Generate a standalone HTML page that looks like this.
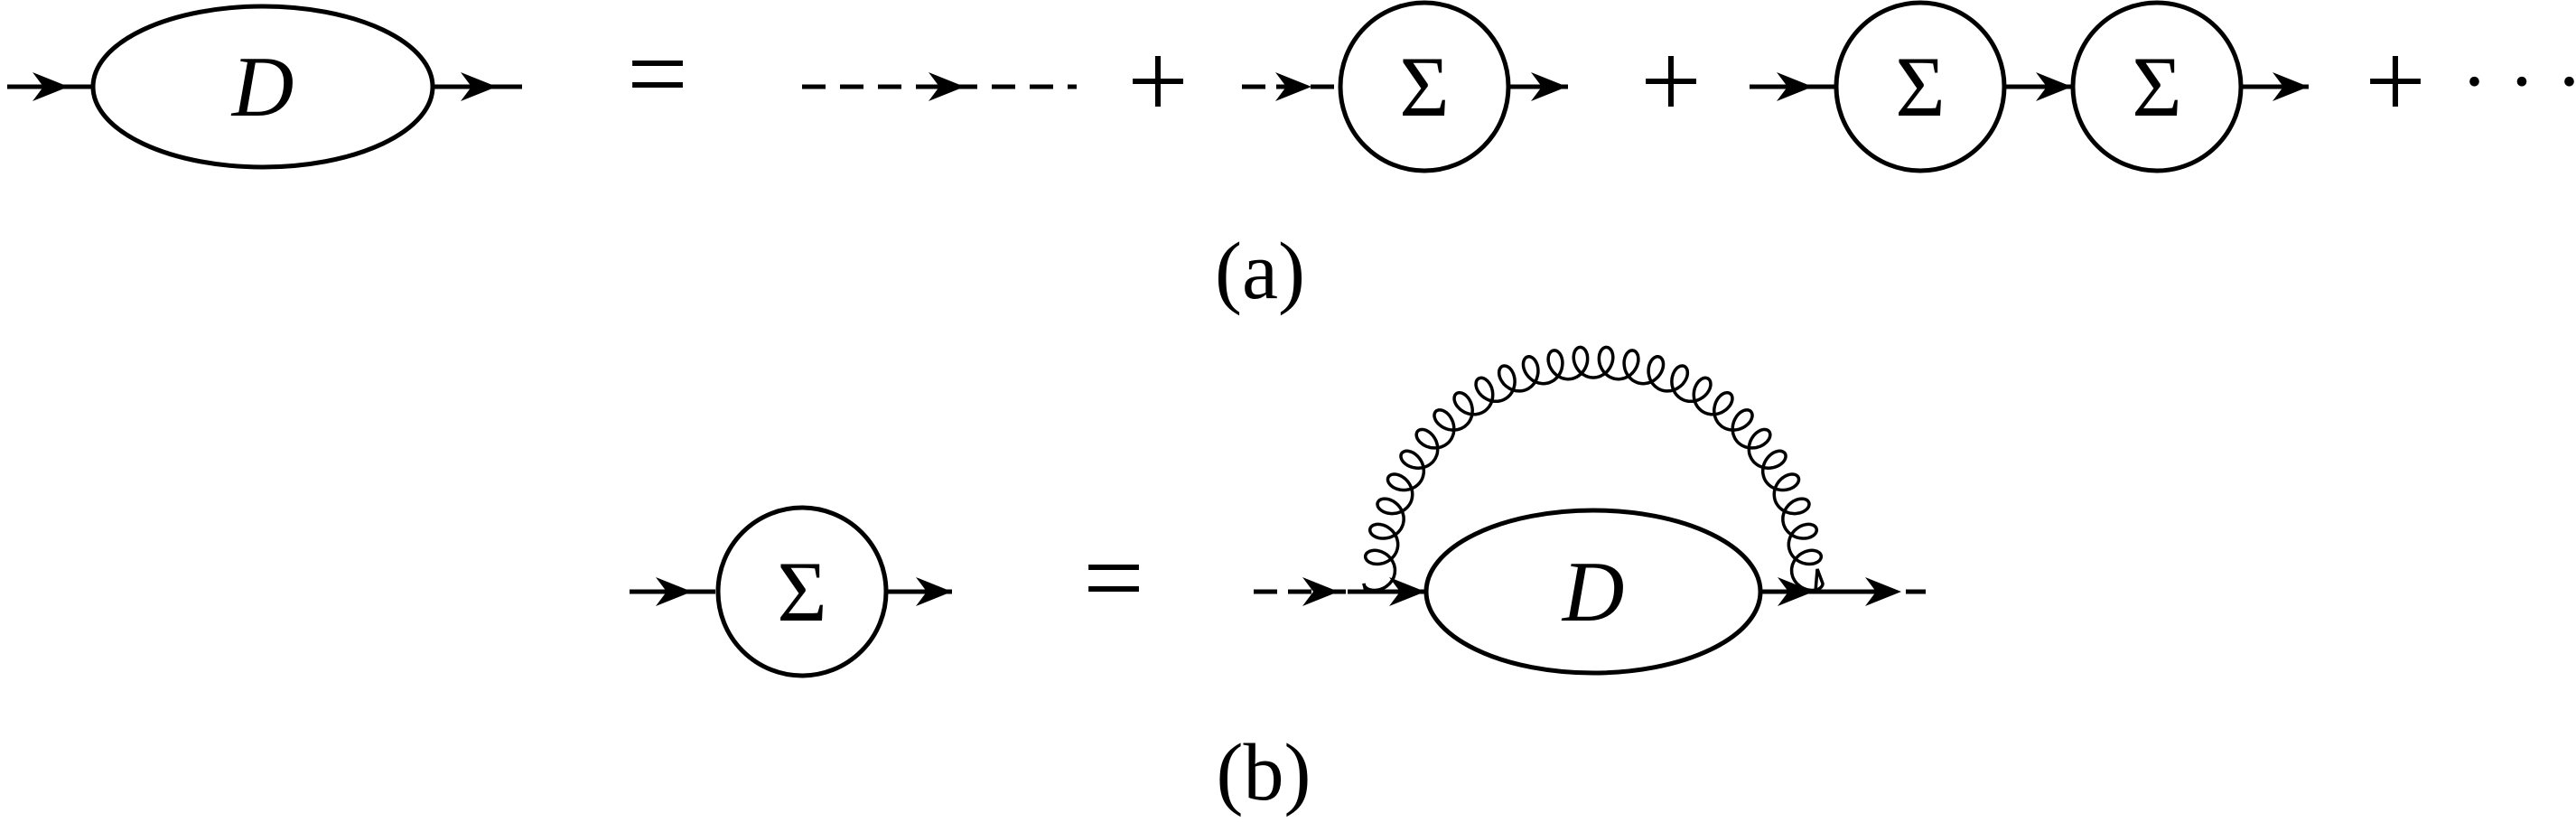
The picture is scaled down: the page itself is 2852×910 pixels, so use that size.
<!DOCTYPE html>
<html><head><style>body{margin:0;background:#fff}svg{display:block}</style></head><body>
<svg id="s" width="2852" height="910" viewBox="0 0 2852 910" xmlns="http://www.w3.org/2000/svg" font-family="Liberation Serif, serif">
<defs>
<path id="ar" d="M0,0 L-40,-16 L-28,0 L-40,16 Z" fill="#000"/>
</defs>
<g stroke="#000" stroke-width="5" fill="none">
<line x1="8" y1="96" x2="104" y2="96"/>
<ellipse cx="291" cy="96" rx="188" ry="89"/>
<line x1="478" y1="96" x2="578" y2="96"/>
<line x1="888" y1="96" x2="1192" y2="96" stroke-dasharray="26,16"/>
<line x1="1375" y1="96" x2="1482" y2="96" stroke-dasharray="26,12"/>
<circle cx="1577" cy="96" r="93"/>
<line x1="1671" y1="96" x2="1736" y2="96"/>
<line x1="1937" y1="96" x2="2032" y2="96"/>
<circle cx="2126" cy="96" r="93"/>
<line x1="2219" y1="96" x2="2294" y2="96"/>
<circle cx="2388" cy="96" r="93"/>
<line x1="2481" y1="96" x2="2556" y2="96"/>
<line x1="697" y1="655" x2="792" y2="655"/>
<circle cx="888" cy="655" r="93"/>
<line x1="982" y1="655" x2="1054" y2="655"/>
<line x1="1388" y1="655" x2="1492" y2="655" stroke-dasharray="26,12"/>
<line x1="1492" y1="655" x2="1580" y2="655"/>
<ellipse cx="1764" cy="655" rx="185" ry="90"/>
<line x1="1949" y1="655" x2="2074" y2="655"/>
<line x1="2074" y1="655" x2="2144" y2="655" stroke-dasharray="22,14"/>
<path id="gl" stroke-width="3.5"/>
</g>
<g>
<use href="#ar" x="76" y="96"/><use href="#ar" x="550" y="96"/>
<use href="#ar" x="1068" y="96"/><use href="#ar" x="1452" y="96"/>
<use href="#ar" x="1735" y="96"/><use href="#ar" x="2007" y="96"/>
<use href="#ar" x="2294" y="96"/><use href="#ar" x="2556" y="96"/>
<use href="#ar" x="766" y="655"/><use href="#ar" x="1054" y="655"/>
<use href="#ar" x="1482" y="655"/><use href="#ar" x="1578" y="655"/>
<use href="#ar" x="2008" y="655"/><use href="#ar" x="2105" y="655"/>
</g>
<g font-size="95" text-anchor="middle">
<text x="291" y="128" font-style="italic">D</text>
<text x="1577" y="128">Σ</text>
<text x="2126" y="128">Σ</text>
<text x="2388" y="128">Σ</text>
<text x="888" y="687">Σ</text>
<text x="1764" y="687" font-style="italic">D</text>
</g>
<g font-size="120" text-anchor="middle">
<text x="728" y="122">=</text>
<text x="1282" y="130">+</text>
<text x="1850" y="130">+</text>
<text x="2652" y="130">+</text>
<text x="1233" y="680">=</text>
</g>
<g font-size="90" text-anchor="middle">
<text x="2792" y="120">· · ·</text>
<text x="1395" y="330">(a)</text>
<text x="1399" y="885">(b)</text>
</g>
</svg>
<script>
(function(){
var cx=1764,cy=646,rx=254,ry=262,N=27,M=3000,d="";
for(var i=0;i<=M;i++){
 var s=i/M, th=Math.PI*(1-s);
 var x=cx+rx*Math.cos(th), y=cy-ry*Math.sin(th);
 var tx=rx*Math.sin(th), ty=ry*Math.cos(th); var l=Math.hypot(tx,ty); tx/=l; ty/=l;
 var nx=Math.cos(th)*ry, ny=-Math.sin(th)*rx; var ln=Math.hypot(nx,ny); nx/=ln; ny/=ln;
 var ph=2*Math.PI*N*s;
 var a=17*(1-Math.cos(ph)), b=-14*Math.sin(ph);
 var px=x-nx*a+tx*b, py=y-ny*a+ty*b;
 d+=(i?"L":"M")+px.toFixed(1)+","+py.toFixed(1);
}
d="M1512,655 L1510,646 "+d.replace(/^M/,"L")+" L2012,630 L2010,655";
document.getElementById("gl").setAttribute("d",d);
})();
</script>
</body></html>
